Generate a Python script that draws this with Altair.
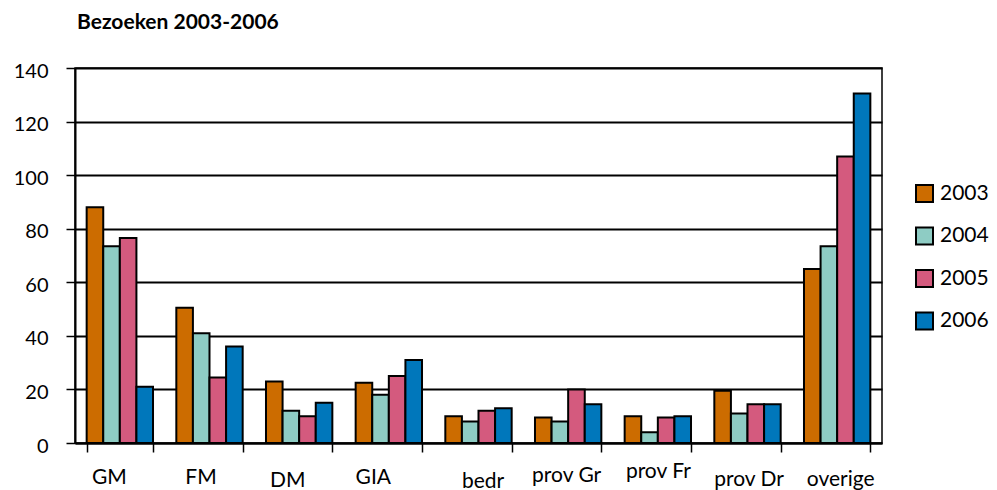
import altair as alt
import pandas as pd
import json

categories = ["GM", "FM", "DM", "GIA", "bedr", "prov Gr", "prov Fr", "prov Dr", "overige"]
years = ["2003", "2004", "2005", "2006"]
v2003 = [88, 50.5, 23, 22.5, 10, 9.5, 10, 19.5, 65]
v2004 = [73.5, 41, 12, 18, 8, 8, 4, 11, 73.5]
v2005 = [76.5, 24.5, 10, 25, 12, 20, 9.5, 14.5, 107]
v2006 = [21, 36, 15, 31, 13, 14.5, 10, 14.5, 130.5]
colors = ["#CC6C00", "#8ECCC4", "#D45A7E", "#0077BB"]

# small per-label nudges of the category labels, as in the original
label_dx = [-11, -9, -12, -16, 4, -2, 0, 1, 3]
label_dy = [0, 0, 3, 0, 4, -2, -6, 2, 2]

rows = []
for yr, vals in zip(years, [v2003, v2004, v2005, v2006]):
    for c, v in zip(categories, vals):
        rows.append({"cat": c, "year": yr, "value": v})
df = pd.DataFrame(rows)

font = "Lato"
cats_js = json.dumps(categories)
dx_expr = f"{json.dumps(label_dx)}[indexof({cats_js}, datum.label)]"
dy_expr = f"14 + {json.dumps(label_dy)}[indexof({cats_js}, datum.label)]"

chart = alt.Chart(df).mark_bar(stroke="black", strokeWidth=2).encode(
    x=alt.X("cat:N", sort=categories, title=None,
            scale=alt.Scale(paddingInner=0.26, paddingOuter=0.13),
            axis=alt.Axis(labelAngle=0, tickBand="extent", tickSize=9, tickWidth=1.5,
                          tickColor="black", domainColor="black", domainWidth=2,
                          labelFont=font, labelFontSize=21, labelColor="black",
                          labelOffset={"expr": dx_expr},
                          labelPadding={"expr": dy_expr})),
    xOffset=alt.XOffset("year:N", sort=years, scale=alt.Scale(paddingInner=0, paddingOuter=0)),
    y=alt.Y("value:Q", title=None,
            scale=alt.Scale(domain=[0, 140]),
            axis=alt.Axis(values=[0, 20, 40, 60, 80, 100, 120, 140], tickSize=9, tickWidth=1.5,
                          tickColor="black", domainColor="black", domainWidth=2,
                          grid=True, gridColor="black", gridWidth=2,
                          labelFont=font, labelFontSize=20, labelColor="black",
                          labelOffset=3, labelPadding=18)),
    color=alt.Color("year:N", sort=years,
                    scale=alt.Scale(domain=years, range=colors),
                    legend=alt.Legend(title=None, orient="none", legendX=839, legendY=115,
                                      padding=0, symbolType="square", symbolSize=289,
                                      symbolStrokeColor="black", symbolStrokeWidth=2,
                                      labelFont=font, labelFontSize=21, labelColor="black",
                                      labelOffset=5, rowPadding=17.5)),
).properties(
    width=807, height=375,
    title=alt.TitleParams("Bezoeken 2003-2006", anchor="start", frame="group",
                          dx=2, offset=28, font=font, fontSize=21, fontWeight="bold",
                          color="black"),
    autosize=alt.AutoSizeParams(type="none"),
    padding={"left": 67, "top": 60, "right": 107, "bottom": 55},
).configure_view(stroke="black", strokeWidth=1.5)

chart.save("out.html", embed_options={"renderer": "svg", "actions": False})
